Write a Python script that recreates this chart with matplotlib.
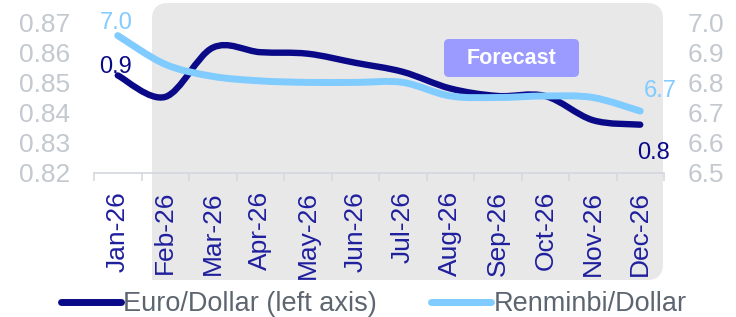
import matplotlib
matplotlib.use("Agg")
import matplotlib.pyplot as plt
from matplotlib.path import Path
from matplotlib.patches import PathPatch, FancyBboxPatch, Rectangle
from matplotlib.lines import Line2D
from matplotlib.transforms import IdentityTransform
import numpy as np

plt.rcParams['font.family'] = ['Liberation Sans', 'DejaVu Sans']

months = ["Jan-26", "Feb-26", "Mar-26", "Apr-26", "May-26", "Jun-26",
          "Jul-26", "Aug-26", "Sep-26", "Oct-26", "Nov-26", "Dec-26"]
euro = [0.8523, 0.8452, 0.8615, 0.8600, 0.8595, 0.8565,
        0.8535, 0.8480, 0.8455, 0.8455, 0.8375, 0.8360]
rmb = [6.955, 6.860, 6.820, 6.805, 6.800, 6.800,
       6.800, 6.755, 6.750, 6.755, 6.750, 6.705]
left_ticks = [0.82, 0.83, 0.84, 0.85, 0.86, 0.87]
right_ticks = [6.5, 6.6, 6.7, 6.8, 6.9, 7.0]

NAVY = "#0a0a88"
LIGHT = "#80cbff"
TICKGRAY = "#c3c9cf"
XLAB = "#1f1f9e"
LEGTXT = "#5d6670"


def smooth_path(xs, ys, k=1/6):
    xs = np.asarray(xs, float)
    ys = np.asarray(ys, float)
    n = len(xs)
    verts = [(xs[0], ys[0])]
    codes = [Path.MOVETO]
    for i in range(n - 1):
        i0 = max(i - 1, 0)
        i3 = min(i + 2, n - 1)
        c1 = (xs[i] + (xs[i + 1] - xs[i0]) * k, ys[i] + (ys[i + 1] - ys[i0]) * k)
        c2 = (xs[i + 1] - (xs[i3] - xs[i]) * k, ys[i + 1] - (ys[i3] - ys[i]) * k)
        verts += [c1, c2, (xs[i + 1], ys[i + 1])]
        codes += [Path.CURVE4] * 3
    return Path(verts, codes)


W, H = 736, 317
fig = plt.figure(figsize=(W / 100, H / 100), dpi=100)

# gray forecast background (pixel coords)
bg = FancyBboxPatch((152, 37), 511, 277, boxstyle="round,pad=0,rounding_size=16",
                    transform=IdentityTransform(), facecolor="#e8e8e8",
                    edgecolor="none", zorder=-2)
fig.patches.append(bg)
fig.patches.append(Rectangle((152, 37), 20, 20, transform=IdentityTransform(),
                             facecolor="#e8e8e8", edgecolor="none", zorder=-2))

ax = fig.add_axes([94 / W, (H - 173) / H, (664 - 94) / W, (173 - 22) / H])
ax.patch.set_visible(False)
ax2 = ax.twinx()
ax2.patch.set_visible(False)

x = np.arange(len(months))
ax.set_xlim(-0.5, len(months) - 0.5)
ax.set_ylim(left_ticks[0], left_ticks[-1])
ax2.set_ylim(right_ticks[0], right_ticks[-1])

p1 = PathPatch(smooth_path(x, euro), facecolor="none", edgecolor=NAVY, lw=4.6,
               capstyle="round", joinstyle="round", zorder=3)
ax.add_patch(p1)
p2 = PathPatch(smooth_path(x, rmb), facecolor="none", edgecolor=LIGHT, lw=5,
               capstyle="round", joinstyle="round", zorder=2)
ax2.add_patch(p2)

for s in ["top", "left", "right"]:
    ax.spines[s].set_visible(False)
    ax2.spines[s].set_visible(False)
ax2.spines["bottom"].set_visible(False)
ax.spines["bottom"].set_color("#d5d9e0")
ax.spines["bottom"].set_linewidth(1.3)

ax.set_xticks(x)
ax.set_xticklabels(months, rotation=90, fontsize=19, color=XLAB)
ax.set_xticks(np.arange(-0.5, len(months), 1), minor=True)
ax.tick_params(axis="x", which="major", length=0, pad=13)
ax.tick_params(axis="x", which="minor", length=6, width=1.2, color="#d5d9e0")

ax.set_yticks(left_ticks)
ax.set_yticklabels([f"{v:.2f}" for v in left_ticks], fontsize=19, color=TICKGRAY)
ax.tick_params(axis="y", length=0, pad=17)
ax2.set_yticks(right_ticks)
ax2.set_yticklabels([f"{v:.1f}" for v in right_ticks], fontsize=19, color=TICKGRAY)
ax2.tick_params(axis="y", length=0, pad=17)

# data labels
ax2.annotate(f"{rmb[0]:.1f}", (x[0], rmb[0]), xytext=(-2, 13), textcoords="offset pixels",
             ha="center", va="center", fontsize=17, color=LIGHT)
ax.annotate(f"{euro[0]:.1f}", (x[0], euro[0]), xytext=(-2, 8), textcoords="offset pixels",
            ha="center", va="center", fontsize=17, color=NAVY)
ax2.annotate(f"{rmb[-1]:.1f}", (x[-1], rmb[-1]), xytext=(20, 20), textcoords="offset pixels",
             ha="center", va="center", fontsize=17, color=LIGHT)
ax.annotate(f"{euro[-1]:.1f}", (x[-1], euro[-1]), xytext=(13, -28), textcoords="offset pixels",
            ha="center", va="center", fontsize=17, color=NAVY)

# Forecast box
fb = FancyBboxPatch((444, 240), 135, 38, boxstyle="round,pad=0,rounding_size=5",
                    transform=IdentityTransform(), facecolor="#9a9aff",
                    edgecolor="none", zorder=5)
fig.patches.append(fb)
fig.text(511.5 / W, 259 / H, "Forecast", ha="center", va="center", fontsize=15.5,
         fontweight="bold", color="white", zorder=6)

handles = [Line2D([], [], color=NAVY, lw=5, solid_capstyle="round"),
           Line2D([], [], color=LIGHT, lw=5, solid_capstyle="round")]
leg = fig.legend(handles, ["Euro/Dollar (left axis)", "Renminbi/Dollar"], loc="center",
                 bbox_to_anchor=(374 / W, 13 / H), ncol=2, frameon=False, fontsize=19.5,
                 handlelength=2.2, handletextpad=0.1, columnspacing=2.0)
for t in leg.get_texts():
    t.set_color(LEGTXT)

fig.savefig("out.png", dpi=100)
